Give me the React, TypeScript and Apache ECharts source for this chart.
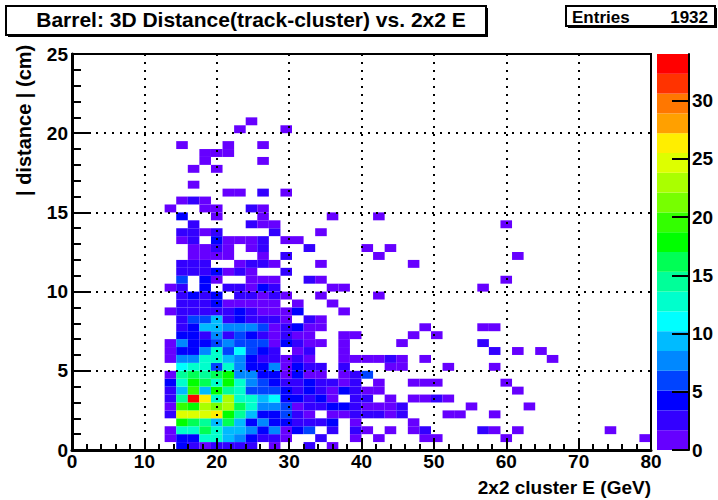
import React, { useEffect, useRef } from "react";
import * as echarts from "echarts";

// Histogram binning (50 x 50 bins)
const xMax = 80;
const yMax = 25;
const nBins = 50;
const zMax = 34;

// Bin contents per y-bin: [x-bin, count]
const row00 = [[9,4],[10,2],[11,1],[12,2],[13,2],[14,2],[15,2],[17,1],[20,2],[22,1]];
const row01 = [[8,1],[9,4],[10,4],[11,12],[12,12],[13,9],[14,7],[15,4],[16,2],[17,2],[18,1],[21,2],[24,1],[26,1],[30,1],[31,1],[37,1],[49,1]];
const row02 = [[8,1],[9,12],[10,12],[11,16],[12,12],[13,9],[14,9],[15,7],[16,4],[17,7],[18,1],[19,4],[20,6],[22,2],[24,2],[25,1],[27,1],[29,1],[30,2],[35,2],[36,1],[38,1],[46,1]];
const row03 = [[9,18],[10,16],[11,14],[12,9],[13,16],[14,9],[15,4],[16,7],[17,4],[18,4],[19,2],[20,2],[21,2],[22,4],[24,1],[29,1]];
const row04 = [[8,2],[9,24],[10,24],[11,24],[12,26],[13,18],[14,14],[15,9],[16,4],[17,4],[18,6],[19,2],[20,1],[22,1],[23,1],[24,2],[25,2],[26,2],[27,1],[28,2],[32,1],[33,1],[36,1]];
const row05 = [[8,1],[9,19],[10,18],[11,23],[12,21],[13,23],[14,16],[15,12],[16,7],[17,7],[18,6],[19,1],[20,2],[21,2],[22,4],[23,4],[24,2],[25,1],[26,1],[27,1],[28,2],[34,1],[39,1]];
const row06 = [[8,2],[9,14],[10,34],[11,26],[12,12],[13,23],[14,12],[15,12],[16,9],[17,11],[18,4],[19,4],[20,2],[21,4],[22,1],[24,2],[25,2],[27,1],[29,1],[30,1],[31,2],[32,1]];
const row07 = [[8,2],[9,9],[10,19],[11,9],[12,18],[13,14],[14,12],[15,6],[16,6],[17,6],[18,4],[19,2],[20,4],[21,2],[22,1],[23,4],[24,2],[25,1],[26,1],[38,1]];
const row08 = [[8,4],[9,12],[10,18],[11,16],[12,12],[13,18],[14,12],[15,7],[16,6],[17,4],[18,2],[19,2],[20,4],[21,2],[22,2],[23,1],[24,2],[26,1],[29,1],[30,1],[31,1],[37,1]];
const row09 = [[8,1],[9,14],[10,16],[11,14],[12,16],[13,18],[14,7],[15,7],[16,4],[17,4],[18,1],[19,4],[20,1],[21,1],[23,1],[24,2],[25,6]];
const row10 = [[9,11],[10,12],[11,12],[12,6],[13,12],[14,7],[15,4],[16,4],[17,7],[18,1],[19,4],[20,2],[21,2],[23,2],[27,1],[28,1],[32,1],[36,1]];
const row11 = [[8,1],[9,7],[10,7],[11,12],[12,12],[13,9],[14,7],[15,4],[16,2],[17,2],[18,1],[19,2],[20,1],[23,1],[24,1],[25,1],[26,1],[27,2],[28,1],[30,1],[41,1]];
const row12 = [[8,1],[9,4],[10,4],[11,7],[12,12],[13,6],[14,11],[15,6],[16,4],[17,2],[19,1],[20,2],[23,1],[36,2],[38,1],[40,1]];
const row13 = [[8,1],[9,7],[10,4],[11,4],[12,6],[13,7],[14,6],[15,6],[16,6],[17,1],[18,4],[19,2],[20,1],[21,1],[23,1],[28,1],[35,2]];
const row14 = [[9,4],[10,4],[11,2],[12,7],[13,2],[14,6],[15,4],[16,2],[17,1],[18,2],[19,1],[20,1],[23,1],[24,1],[29,1],[31,1]];
const row15 = [[9,2],[10,4],[11,9],[12,9],[13,7],[14,7],[15,7],[16,6],[17,1],[18,2],[19,4],[20,1],[21,1],[30,1],[35,1],[36,1]];
const row16 = [[9,2],[10,6],[11,6],[12,9],[13,2],[14,4],[15,2],[16,2],[17,2],[18,1],[20,2],[21,1]];
const row17 = [[8,1],[9,2],[10,2],[11,2],[12,2],[13,2],[14,4],[15,2],[16,1],[17,1],[18,1],[19,4],[23,1]];
const row18 = [[9,2],[10,2],[11,2],[12,4],[13,1],[14,1],[15,1],[16,1],[17,1],[19,1],[22,1]];
const row19 = [[9,2],[10,4],[11,2],[12,4],[14,2],[15,2],[16,1],[17,2],[18,1],[21,1],[26,1]];
const row20 = [[8,1],[9,2],[11,4],[13,2],[14,2],[15,1],[16,4],[17,2],[22,1],[23,1],[35,1]];
const row21 = [[9,6],[11,4],[12,1],[15,1],[16,1],[17,1],[20,2],[21,1],[37,1]];
const row22 = [[9,2],[10,2],[11,2],[12,4],[13,1],[14,2],[15,1],[18,2]];
const row23 = [[9,2],[10,2],[11,2],[14,1],[15,2],[16,2],[17,1],[21,1],[29,1]];
const row24 = [[10,1],[11,1],[12,1],[13,1],[16,1],[18,2],[26,1],[38,1]];
const row25 = [[10,1],[11,1],[12,2],[13,1],[15,1],[16,2],[20,2],[25,1],[27,1]];
const row26 = [[9,1],[10,2],[12,4],[13,1],[14,1],[15,1],[16,2],[18,1],[19,1]];
const row27 = [[9,2],[10,2],[11,1],[12,2],[17,2],[21,1]];
const row28 = [[10,2],[15,2],[16,1],[17,1],[37,1]];
const row29 = [[9,4],[12,1],[16,1],[22,1],[26,1]];
const row30 = [[8,1],[11,1],[12,1],[15,2],[16,1]];
const row31 = [[9,1],[10,2],[11,1]];
const row32 = [[13,1],[14,1],[16,2],[18,1]];
const row33 = [[10,1]];
const row35 = [[10,1],[12,1]];
const row36 = [[11,1],[16,1]];
const row37 = [[11,1],[12,1],[13,1]];
const row38 = [[9,1],[13,1],[16,1]];
const row40 = [[14,1],[18,1]];
const row41 = [[15,1]];

const yRows: [number, number[][]][] = [
  [0,row00],[1,row01],[2,row02],[3,row03],[4,row04],[5,row05],[6,row06],[7,row07],[8,row08],[9,row09],
  [10,row10],[11,row11],[12,row12],[13,row13],[14,row14],[15,row15],[16,row16],[17,row17],[18,row18],[19,row19],
  [20,row20],[21,row21],[22,row22],[23,row23],[24,row24],[25,row25],[26,row26],[27,row27],[28,row28],[29,row29],
  [30,row30],[31,row31],[32,row32],[33,row33],[35,row35],[36,row36],[37,row37],[38,row38],[40,row40],[41,row41],
];

// ROOT rainbow palette, 20 contours from 0 to zMax
const palette = [
  "#6600ff","#3300ff","#0000ff","#0044ff","#0088ff","#00bbff","#00ffff","#00ffcc","#00ff99","#00ff55",
  "#00ff00","#33ff00","#77ff00","#aaff00","#ddff00","#ffee00","#ffa000","#ff7700","#ff3300","#ff0000",
];

const zTicks = [0, 5, 10, 15, 20, 25, 30];

const titleText = "Barrel: 3D Distance(track-cluster) vs. 2x2 E";
const statLabel = "Entries";
const statValue = "1932";
const xTitle = "2x2 cluster E (GeV)";
const yTitle = "| distance | (cm)";

const FONT = "'Liberation Sans', Arial, sans-serif";
const plot = { left: 72, right: 651, top: 54, bottom: 450 };
const bar = { left: 657, right: 689 };

function levelOf(v: number) {
  return Math.min(palette.length - 1, Math.floor((v / zMax) * palette.length));
}

function buildOption() {
  const dx = xMax / nBins;
  const dy = yMax / nBins;
  const cells: number[][] = [];
  yRows.forEach(([yb, row]) =>
    row.forEach(([xb, v]) => {
      cells.push([xb * dx, yb * dy, (xb + 1) * dx, (yb + 1) * dy, v]);
    })
  );
  const barCells = palette.map((_, i) => [0, (i * zMax) / palette.length, 1, ((i + 1) * zMax) / palette.length, ((i + 0.5) * zMax) / palette.length]);

  const renderCell = (params: any, api: any) => {
    const p0 = api.coord([api.value(0), api.value(1)]);
    const p1 = api.coord([api.value(2), api.value(3)]);
    return {
      type: "rect",
      shape: { x: p0[0], y: p1[1], width: p1[0] - p0[0], height: p0[1] - p1[1] },
      style: { fill: palette[levelOf(api.value(4))], stroke: null },
    };
  };

  const axisLabel = { color: "#000", fontFamily: FONT, fontWeight: "bold" as const, fontSize: 19 };

  return {
    animation: false,
    backgroundColor: "#fff",
    title: {
      text: titleText,
      left: 246,
      top: 4,
      textAlign: "center",
      textStyle: { fontFamily: FONT, fontWeight: "bold", fontSize: 21, color: "#000" },
    },
    grid: [
      { left: plot.left, top: plot.top, width: plot.right - plot.left, height: plot.bottom - plot.top, show: false },
      { left: bar.left, top: plot.top, width: bar.right - bar.left, height: plot.bottom - plot.top, show: false },
    ],
    xAxis: [
      {
        type: "value", gridIndex: 0, min: 0, max: xMax, interval: 10, z: 10,
        axisLine: { show: true, onZero: false, lineStyle: { color: "#000", width: 3 } },
        axisTick: { show: true, inside: true, length: 12, lineStyle: { color: "#000", width: 2 } },
        minorTick: { show: true, splitNumber: 5, length: 6, lineStyle: { color: "#000", width: 2 } },
        splitLine: { show: true, lineStyle: { color: "#000", width: 2, type: [2, 6] } },
        axisLabel: { ...axisLabel, margin: 2 },
      },
      { type: "value", gridIndex: 1, min: 0, max: 1, show: false },
    ],
    yAxis: [
      {
        type: "value", gridIndex: 0, min: 0, max: yMax, interval: 5, z: 10,
        axisLine: { show: true, onZero: false, lineStyle: { color: "#000", width: 3 } },
        axisTick: { show: true, inside: true, length: 19, lineStyle: { color: "#000", width: 2 } },
        minorTick: { show: true, splitNumber: 5, length: 9, lineStyle: { color: "#000", width: 2 } },
        splitLine: { show: true, lineStyle: { color: "#000", width: 2, type: [2, 6] } },
        axisLabel: { ...axisLabel, margin: 4 },
      },
      {
        type: "value", gridIndex: 1, min: 0, max: zMax, interval: 5, position: "right", z: 10,
        axisLine: { show: true, onZero: false, lineStyle: { color: "#000", width: 2 } },
        axisTick: { show: true, inside: true, length: 17, lineStyle: { color: "#000", width: 2 }, customValues: zTicks },
        splitLine: { show: false },
        axisLabel: { ...axisLabel, margin: 3, customValues: zTicks },
      },
    ],
    series: [
      {
        type: "custom", xAxisIndex: 0, yAxisIndex: 0, z: 2, silent: true, clip: true,
        data: cells, renderItem: renderCell, encode: { x: [0, 2], y: [1, 3] },
      },
      {
        type: "custom", xAxisIndex: 1, yAxisIndex: 1, z: 2, silent: true,
        data: barCells, renderItem: renderCell, encode: { x: [0, 2], y: [1, 3] },
      },
    ],
    graphic: [
      { type: "rect", z: 0, shape: { x: 8, y: 8, width: 480, height: 29 }, style: { fill: "#000" } },
      { type: "rect", z: 1, shape: { x: 6, y: 6, width: 480, height: 29 }, style: { fill: "#fff", stroke: "#000", lineWidth: 2 } },
      { type: "rect", z: 0, shape: { x: 568, y: 8, width: 149, height: 20 }, style: { fill: "#000" } },
      { type: "rect", z: 1, shape: { x: 566, y: 6, width: 149, height: 20 }, style: { fill: "#fff", stroke: "#000", lineWidth: 2 } },
      { type: "text", z: 3, x: 572, y: 9, style: { text: statLabel, font: `bold 17px ${FONT}`, fill: "#000" } },
      { type: "text", z: 3, x: 708, y: 9, style: { text: statValue, font: `bold 17px ${FONT}`, fill: "#000", align: "right" } },
      { type: "text", z: 3, x: 651, y: 478, style: { text: xTitle, font: `bold 19px ${FONT}`, fill: "#000", align: "right" } },
      { type: "text", z: 3, x: 14, y: 196, rotation: Math.PI / 2, style: { text: yTitle, font: `bold 20px ${FONT}`, fill: "#000" } },
      { type: "rect", z: 20, shape: { x: plot.left, y: plot.top, width: plot.right - plot.left, height: plot.bottom - plot.top }, style: { fill: "none", stroke: "#000", lineWidth: 2 } },
    ],
  };
}

export default function App() {
  const ref = useRef<HTMLDivElement>(null);
  useEffect(() => {
    const chart = echarts.init(ref.current!, undefined, { renderer: "svg" });
    chart.setOption(buildOption() as any);
    return () => chart.dispose();
  }, []);
  return <div ref={ref} style={{ position: "absolute", left: 0, top: 0, width: 718, height: 500 }} />;
}
